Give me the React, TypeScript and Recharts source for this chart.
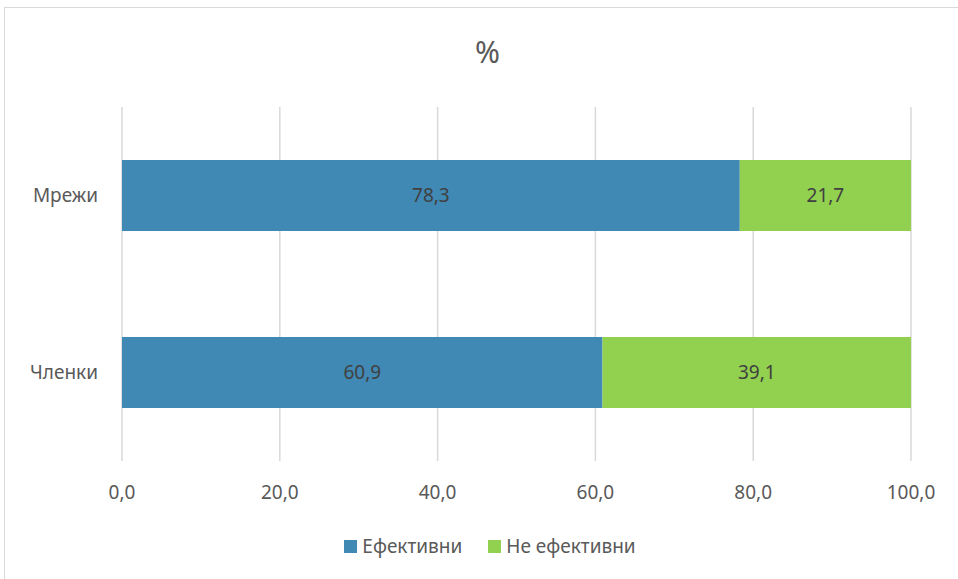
import { BarChart, Bar, XAxis, YAxis, CartesianGrid, LabelList } from 'recharts'

const categories = ['Мрежи', 'Членки']
const effective = [78.3, 60.9]
const notEffective = [21.7, 39.1]
const xTicks = [0, 20, 40, 60, 80, 100]

const data = categories.map((name, i) => ({ name, effective: effective[i], notEffective: notEffective[i] }))

const fmt = (v: any) => Number(v).toFixed(1).replace('.', ',')
const font = '"Noto Sans", sans-serif'

function Legend() {
  const items = [
    { label: 'Ефективни', color: '#3f89b4' },
    { label: 'Не ефективни', color: '#92d050' },
  ]
  return (
    <div style={{ position: 'absolute', top: 533, left: 0, width: 980, display: 'flex', justifyContent: 'center', gap: 26, fontFamily: font, fontSize: 19, color: '#595959' }}>
      {items.map(it => (
        <div key={it.label} style={{ display: 'flex', alignItems: 'center', gap: 5 }}>
          <span style={{ width: 13, height: 13, background: it.color, display: 'inline-block' }} />
          <span>{it.label}</span>
        </div>
      ))}
    </div>
  )
}

export default function App() {
  return (
    <div style={{ position: 'absolute', left: 0, top: 0, width: 958, height: 579, background: '#fff', overflow: 'hidden' }}>
      <div style={{ position: 'absolute', left: 4, top: 7, width: 970, height: 600, border: '1.5px solid #d9d9d9' }} />
      <div style={{ position: 'absolute', top: 31, left: 0, width: 975, textAlign: 'center', fontFamily: font, fontSize: 30, color: '#595959' }}>%</div>
      <BarChart
        layout="vertical"
        width={958}
        height={579}
        data={data}
        margin={{ top: 107, right: 47, bottom: 88, left: 22 }}
        barCategoryGap="30%"
        style={{ position: 'absolute', left: 0, top: 0 }}
      >
        <CartesianGrid horizontal={false} stroke="#d9d9d9" strokeWidth={1.5} />
        <XAxis type="number" domain={[0, 100]} ticks={xTicks} tickFormatter={fmt} axisLine={false} tickLine={false} tickSize={0} tickMargin={25} height={30} tick={{ fill: '#595959', fontSize: 19, fontFamily: font }} />
        <YAxis type="category" dataKey="name" width={100} axisLine={false} tickLine={false} tickSize={0} tickMargin={24} tick={{ fill: '#595959', fontSize: 19, fontFamily: font }} />
        <Bar dataKey="effective" stackId="a" fill="#3f89b4" isAnimationActive={false}>
          <LabelList dataKey="effective" position="center" formatter={fmt} fill="#404040" fontSize={19} fontFamily={font} />
        </Bar>
        <Bar dataKey="notEffective" stackId="a" fill="#92d050" isAnimationActive={false}>
          <LabelList dataKey="notEffective" position="center" formatter={fmt} fill="#404040" fontSize={19} fontFamily={font} />
        </Bar>
      </BarChart>
      <Legend />
    </div>
  )
}
